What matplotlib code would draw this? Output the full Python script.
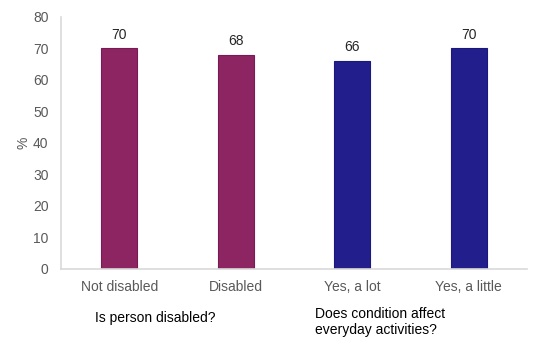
import matplotlib
matplotlib.use('Agg')
import matplotlib.pyplot as plt

plt.rcParams['font.family'] = ['Liberation Sans', 'DejaVu Sans']

# Data
categories = ['Not disabled', 'Disabled', 'Yes, a lot', 'Yes, a little']
values = [70, 68, 66, 70]
bar_colors = ['#8E2563', '#8E2563', '#221F8C', '#221F8C']
edge_colors = ['#7A1A55', '#7A1A55', '#1A187A', '#1A187A']
group_labels = ['Is person disabled?', 'Does condition affect\neveryday activities?']

fig = plt.figure(figsize=(5.33, 3.51), dpi=100)
ax = fig.add_axes([61 / 533, 1 - 269 / 351, 466 / 533, 252 / 351])

x = range(len(categories))
bars = ax.bar(x, values, width=0.31, color=bar_colors, edgecolor=edge_colors, linewidth=0.8)

for b, v in zip(bars, values):
    ax.text(b.get_x() + b.get_width() / 2, v + 2.2, str(v), ha='center', va='bottom',
            fontsize=10, color='#262626')

ax.set_xlim(-0.5, len(categories) - 0.5)
ax.set_ylim(0, 80)
ax.set_yticks(range(0, 81, 10))
ax.set_xticks(list(x))
ax.set_xticklabels(categories)
ax.tick_params(axis='both', length=0, labelsize=10, labelcolor='#595959')
ax.tick_params(axis='x', pad=8)
ax.tick_params(axis='y', pad=9)

for s in ['top', 'right']:
    ax.spines[s].set_visible(False)
for s in ['left', 'bottom']:
    ax.spines[s].set_color('#D9D9D9')
    ax.spines[s].set_linewidth(1.2)

ax.set_ylabel('%', fontsize=10, color='#595959', labelpad=2)

# group captions under the categories
fig.text(95 / 533, 1 - 318 / 351, group_labels[0], ha='left', va='center', fontsize=10, color='black')
fig.text(315 / 533, 1 - 322 / 351, group_labels[1], ha='left', va='center', fontsize=10,
         color='black', linespacing=1.2)

fig.savefig('out.png', dpi=100)
